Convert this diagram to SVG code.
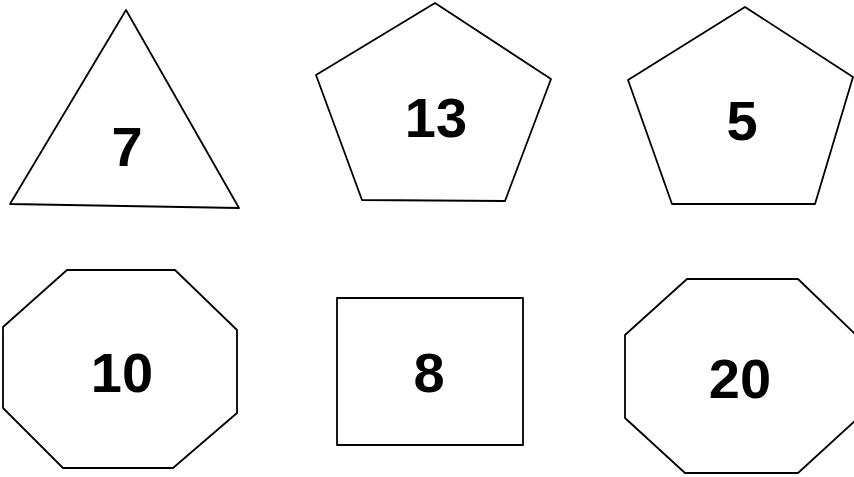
<svg xmlns="http://www.w3.org/2000/svg" width="854" height="477" viewBox="0 0 854 477">
<style>
.shape{fill:#fff;stroke:#000;stroke-width:1.8;stroke-linejoin:round}
.num{font-family:"Liberation Sans",Arial,sans-serif;font-weight:bold;font-size:56px;fill:#000;text-anchor:middle}
</style>
<rect width="854" height="477" fill="#fff"/>
<g id="triangle-7">
<polygon class="shape" points="126,10 10,204 239,208"/>
<text class="num" x="127" y="166">7</text>
</g>
<g id="pentagon-13">
<polygon class="shape" points="435,3 551,79 505,201 362,200 316,75"/>
<text class="num" x="436" y="137">13</text>
</g>
<g id="pentagon-5">
<polygon class="shape" points="745,7 853,77 815,204 672,204 628,80"/>
<text class="num" x="742" y="140">5</text>
</g>
<g id="octagon-10">
<polygon class="shape" points="67,270 175,270 237,330 237,413 173,468 63,468 3,408 3,327"/>
<text class="num" x="122" y="392">10</text>
</g>
<g id="rect-8">
<rect class="shape" x="337" y="298" width="186" height="147"/>
<text class="num" x="429" y="392">8</text>
</g>
<g id="octagon-20">
<polygon class="shape" points="687,279 798,279 857,336 857,419 798,473 685,473 625,418 625,335"/>
<text class="num" x="740" y="398">20</text>
</g>
<g id="connectors"></g>
</svg>
